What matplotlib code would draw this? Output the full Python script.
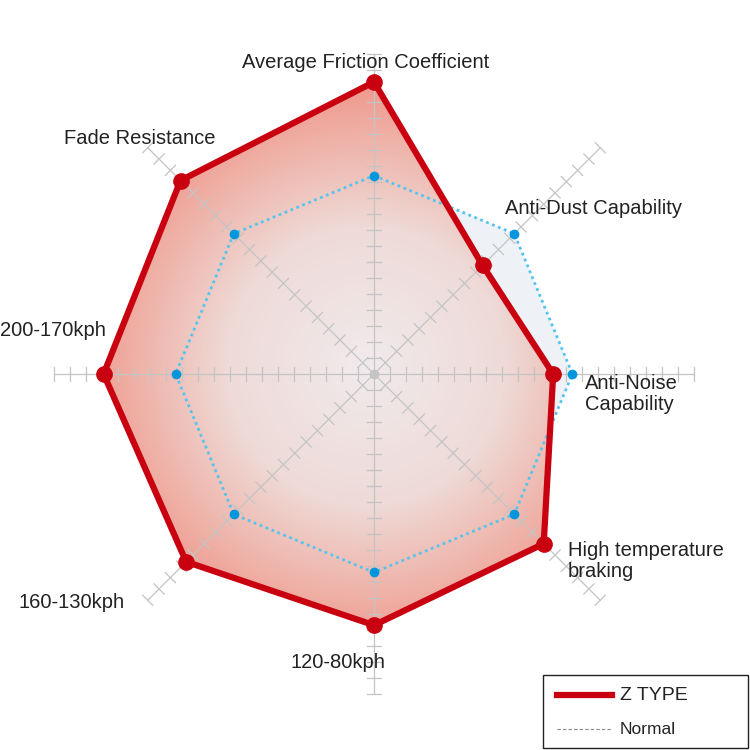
import numpy as np
import matplotlib.pyplot as plt
from matplotlib.patches import Polygon, Rectangle
from matplotlib.colors import LinearSegmentedColormap

labels = ["Average Friction Coefficient", "Anti-Dust Capability", "Anti-Noise\nCapability",
          "High temperature\nbraking", "120-80kph", "160-130kph", "200-170kph", "Fade Resistance"]
z_type = [18.25, 9.6, 11.2, 15.0, 15.7, 16.6, 16.9, 17.1]
normal = [12.4, 12.4, 12.4, 12.4, 12.4, 12.4, 12.4, 12.4]
n_ticks = 20

plt.rcParams["font.family"] = ["Liberation Sans", "DejaVu Sans"]

# angles clockwise from top
ang = np.pi / 2 - np.arange(8) * np.pi / 4


def xy(vals):
    v = np.asarray(vals)
    return np.column_stack([v * np.cos(ang), v * np.sin(ang)])


fig = plt.figure(figsize=(7.5, 7.5), dpi=100)
ax = fig.add_axes([0, 0, 1, 1])
ax.set_xlim(-374 / 16, 376 / 16)
ax.set_ylim(-376 / 16, 374 / 16)
ax.set_aspect("equal")
ax.axis("off")

# normal fill
ax.add_patch(Polygon(xy(normal), closed=True, facecolor="#eef2f6", edgecolor="none", zorder=1))

# Z TYPE gradient fill
zpoly = Polygon(xy(z_type), closed=True, facecolor="none", edgecolor="none", zorder=2)
ax.add_patch(zpoly)
gx, gy = np.meshgrid(np.linspace(-20, 20, 400), np.linspace(-20, 20, 400))
r = np.hypot(gx + 0.5, gy - 0.5) / 19
cmap = LinearSegmentedColormap.from_list(
    "g", [(0, "#f1eaec"), (0.45, "#eedbd8"), (0.75, "#efb2a8"), (1, "#f08e82")])
im = ax.imshow(r, extent=(-20, 20, -20, 20), origin="lower", cmap=cmap, vmin=0, vmax=1,
               zorder=2, interpolation="bilinear")
im.set_clip_path(zpoly)

# axes and ticks
for a in ang:
    d = np.array([np.cos(a), np.sin(a)])
    p = np.array([-d[1], d[0]])
    ax.plot([0, d[0] * n_ticks], [0, d[1] * n_ticks], color="#c4c4c4", lw=0.9, zorder=3)
    for k in range(1, n_ticks + 1):
        c = d * k
        h = 0.45
        ax.plot([c[0] - p[0] * h, c[0] + p[0] * h], [c[1] - p[1] * h, c[1] + p[1] * h],
                color="#c4c4c4", lw=0.9, zorder=3)
ax.plot(0, 0, "o", color="#c4c4c4", ms=6, zorder=3)

nxy = xy(normal)
ax.plot(np.append(nxy[:, 0], nxy[0, 0]), np.append(nxy[:, 1], nxy[0, 1]),
        color="#55c4ee", lw=2, ls=(0, (1, 1.3)), zorder=4)
ax.plot(nxy[:, 0], nxy[:, 1], "o", color="#0096dc", ms=6, zorder=4)

zxy = xy(z_type)
ax.plot(np.append(zxy[:, 0], zxy[0, 0]), np.append(zxy[:, 1], zxy[0, 1]),
        color="#c8000f", lw=4.5, zorder=5, solid_joinstyle="round")
ax.plot(zxy[:, 0], zxy[:, 1], "o", color="#c8000f", ms=11, zorder=5)


def px(x, y):
    return (x - 374) / 16, (374 - y) / 16


fs = 14.5
txt = [
    (labels[0], 366, 62, "center"),
    (labels[1], 505, 209, "left"),
    (labels[2], 585, 394, "left"),
    (labels[3], 568, 561, "left"),
    (labels[4], 338, 662, "center"),
    (labels[5], 18, 603, "left"),
    (labels[6], 0, 331, "left"),
    (labels[7], 64, 139, "left"),
]
for t, x, y, ha in txt:
    ax.text(*px(x, y), t, ha=ha, va="center", fontsize=fs, color="#222222",
            linespacing=1.15, zorder=6)

# legend
x0, y0 = px(543, 748)
ax.add_patch(Rectangle((x0, y0), 205 / 16, 73 / 16, facecolor="white", edgecolor="#222222",
                       lw=1, zorder=7))
ax.plot([px(557, 0)[0], px(612, 0)[0]], [px(0, 695)[1]] * 2, color="#c8000f", lw=4.5, zorder=8)
ax.text(*px(620, 695), "Z TYPE", fontsize=14, va="center", color="#222222", zorder=8)
ax.plot([px(557, 0)[0], px(612, 0)[0]], [px(0, 729)[1]] * 2, color="#888888", lw=0.8,
        ls=(0, (3, 2)), zorder=8)
ax.text(*px(620, 729), "Normal", fontsize=12.5, va="center", color="#222222", zorder=8)

fig.savefig("out.png", dpi=100)
